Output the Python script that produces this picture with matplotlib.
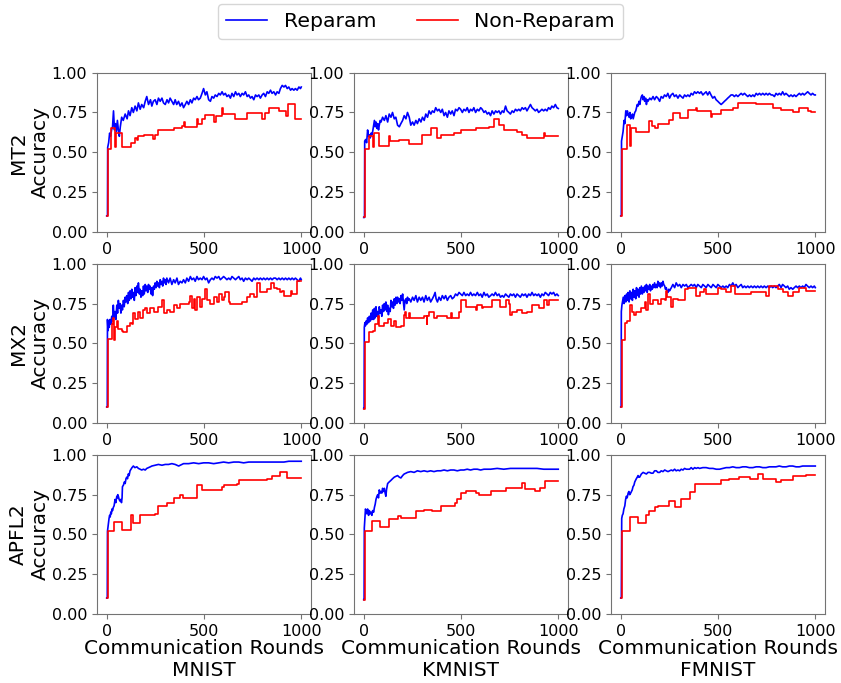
import numpy as np
import matplotlib
matplotlib.use('Agg')
from matplotlib import pyplot as plt

datasets = ['MNIST', 'KMNIST', 'FMNIST']
methods = ['MT2', 'MX2', 'APFL2']

# Reparam curves (round, accuracy)
blue_mt2_mnist = [(0,0.10),(4,0.10),(5,0.53),(10,0.56),(15,0.62),(20,0.60),(25,0.64),(30,0.66),(35,0.76),(40,0.64),(45,0.68),(50,0.63),(55,0.70),(60,0.64),(65,0.60),(70,0.66),(77,0.72),(85,0.70),(95,0.74),(105,0.71),(112,0.76),(120,0.73),(129,0.78),(137,0.75),(146,0.79),(155,0.76),(163,0.81),(172,0.77),(180,0.80),(190,0.78),(198,0.82),(206,0.85),(215,0.80),(225,0.83),(232,0.79),(240,0.82),(249,0.83),(258,0.80),(266,0.84),(275,0.82),(284,0.84),(292,0.81),(301,0.80),(310,0.83),(318,0.81),(326,0.84),(335,0.82),(344,0.80),(352,0.83),(360,0.80),(369,0.82),(378,0.79),(387,0.81),(395,0.78),(404,0.80),(412,0.82),(421,0.80),(430,0.83),(438,0.81),(447,0.84),(455,0.83),(464,0.85),(472,0.83),(481,0.84),(490,0.87),(498,0.90),(507,0.86),(515,0.88),(524,0.83),(533,0.82),(541,0.85),(550,0.84),(558,0.86),(567,0.85),(576,0.87),(584,0.86),(593,0.88),(601,0.86),(610,0.87),(618,0.85),(627,0.86),(636,0.84),(644,0.87),(653,0.85),(662,0.88),(670,0.86),(679,0.87),(687,0.85),(696,0.87),(704,0.86),(713,0.88),(722,0.85),(730,0.86),(739,0.84),(747,0.85),(756,0.83),(765,0.86),(773,0.85),(782,0.86),(790,0.84),(799,0.86),(807,0.87),(816,0.85),(825,0.88),(833,0.87),(842,0.89),(850,0.87),(859,0.88),(868,0.86),(876,0.88),(885,0.87),(893,0.90),(902,0.92),(911,0.91),(919,0.92),(928,0.90),(936,0.91),(945,0.89),(953,0.90),(962,0.89),(970,0.90),(979,0.89),(988,0.91),(996,0.90),(1000,0.91)]
blue_mt2_kmnist = [(0,0.09),(4,0.09),(5,0.57),(10,0.58),(15,0.56),(20,0.64),(25,0.60),(29,0.61),(34,0.59),(38,0.62),(42,0.61),(46,0.63),(50,0.66),(55,0.70),(59,0.66),(63,0.69),(68,0.65),(72,0.68),(76,0.64),(80,0.67),(85,0.70),(89,0.69),(97,0.72),(106,0.70),(114,0.73),(123,0.69),(131,0.74),(140,0.72),(148,0.75),(157,0.71),(165,0.72),(174,0.67),(183,0.66),(191,0.68),(200,0.70),(208,0.73),(217,0.71),(225,0.75),(234,0.72),(242,0.67),(251,0.69),(259,0.67),(268,0.70),(276,0.68),(285,0.71),(294,0.69),(302,0.72),(311,0.70),(319,0.74),(328,0.72),(336,0.76),(345,0.74),(353,0.76),(362,0.75),(370,0.78),(379,0.76),(387,0.77),(396,0.75),(404,0.77),(413,0.73),(421,0.75),(430,0.72),(438,0.76),(447,0.74),(455,0.76),(464,0.73),(472,0.77),(481,0.76),(490,0.78),(498,0.77),(507,0.75),(515,0.77),(524,0.76),(532,0.78),(541,0.75),(549,0.77),(558,0.76),(566,0.78),(575,0.75),(584,0.77),(592,0.76),(601,0.78),(609,0.77),(618,0.75),(626,0.76),(635,0.74),(643,0.75),(652,0.73),(660,0.76),(669,0.74),(678,0.76),(686,0.75),(695,0.76),(703,0.74),(712,0.76),(720,0.75),(729,0.79),(737,0.76),(746,0.75),(754,0.74),(763,0.76),(771,0.75),(780,0.77),(788,0.76),(797,0.77),(805,0.76),(814,0.78),(822,0.77),(831,0.78),(839,0.76),(848,0.78),(857,0.80),(865,0.78),(874,0.77),(882,0.76),(891,0.77),(899,0.75),(908,0.76),(916,0.77),(925,0.76),(933,0.77),(942,0.76),(950,0.78),(959,0.77),(967,0.79),(976,0.78),(985,0.80),(993,0.78),(1000,0.775)]
blue_mt2_fmnist = [(0,0.10),(3,0.10),(4,0.57),(8,0.60),(12,0.63),(17,0.70),(21,0.68),(26,0.76),(30,0.73),(34,0.76),(38,0.74),(43,0.72),(47,0.75),(51,0.71),(55,0.72),(60,0.74),(64,0.71),(68,0.73),(72,0.75),(77,0.76),(81,0.78),(85,0.80),(89,0.79),(94,0.82),(98,0.80),(102,0.83),(106,0.85),(111,0.86),(115,0.83),(119,0.85),(123,0.82),(128,0.84),(132,0.80),(136,0.83),(140,0.82),(149,0.84),(157,0.83),(166,0.85),(174,0.83),(183,0.85),(191,0.84),(200,0.82),(208,0.85),(217,0.84),(225,0.86),(234,0.85),(242,0.87),(251,0.84),(259,0.86),(268,0.87),(276,0.85),(285,0.86),(294,0.84),(303,0.86),(311,0.85),(320,0.84),(328,0.86),(337,0.85),(345,0.86),(354,0.85),(362,0.87),(371,0.86),(379,0.88),(388,0.87),(396,0.88),(405,0.87),(413,0.88),(422,0.86),(430,0.87),(439,0.88),(447,0.86),(456,0.88),(464,0.86),(473,0.84),(482,0.85),(490,0.83),(499,0.82),(507,0.81),(516,0.80),(525,0.81),(533,0.82),(542,0.83),(550,0.84),(559,0.85),(567,0.86),(576,0.86),(584,0.85),(593,0.86),(602,0.85),(610,0.86),(619,0.87),(627,0.86),(636,0.87),(644,0.86),(653,0.85),(662,0.86),(670,0.85),(679,0.86),(687,0.85),(696,0.87),(704,0.86),(713,0.87),(721,0.86),(730,0.87),(739,0.86),(747,0.87),(756,0.86),(764,0.87),(773,0.86),(781,0.86),(790,0.85),(798,0.87),(807,0.86),(815,0.87),(824,0.86),(832,0.88),(841,0.86),(849,0.87),(858,0.86),(866,0.85),(875,0.86),(884,0.85),(892,0.86),(901,0.85),(909,0.86),(918,0.87),(926,0.86),(935,0.87),(943,0.86),(952,0.87),(961,0.88),(969,0.87),(978,0.86),(986,0.87),(995,0.86),(1000,0.86)]
blue_mx2_mnist = [(0,0.10),(3,0.10),(4,0.65),(7,0.58),(10,0.64),(13,0.60),(17,0.65),(21,0.62),(26,0.67),(30,0.64),(34,0.74),(38,0.66),(43,0.70),(47,0.65),(52,0.74),(56,0.69),(60,0.77),(64,0.72),(69,0.75),(73,0.69),(77,0.74),(81,0.71),(86,0.77),(90,0.73),(95,0.79),(99,0.76),(103,0.80),(108,0.75),(112,0.82),(116,0.77),(120,0.83),(125,0.78),(129,0.84),(133,0.79),(137,0.82),(142,0.77),(146,0.85),(150,0.80),(155,0.86),(159,0.82),(163,0.88),(168,0.81),(172,0.84),(176,0.79),(180,0.83),(185,0.80),(189,0.86),(193,0.81),(198,0.87),(202,0.83),(206,0.86),(211,0.82),(215,0.87),(219,0.84),(223,0.86),(228,0.81),(232,0.85),(236,0.80),(241,0.86),(245,0.84),(249,0.88),(254,0.85),(258,0.89),(262,0.86),(266,0.88),(271,0.85),(275,0.90),(279,0.87),(284,0.89),(288,0.86),(292,0.91),(297,0.88),(301,0.90),(305,0.87),(309,0.91),(318,0.88),(326,0.91),(335,0.87),(344,0.90),(352,0.88),(361,0.91),(369,0.87),(378,0.89),(387,0.88),(395,0.90),(404,0.88),(412,0.91),(421,0.89),(430,0.92),(438,0.90),(447,0.91),(455,0.89),(464,0.92),(472,0.90),(481,0.91),(490,0.90),(498,0.92),(507,0.90),(515,0.91),(524,0.88),(533,0.90),(541,0.91),(550,0.90),(558,0.92),(567,0.91),(576,0.92),(584,0.90),(593,0.91),(601,0.92),(610,0.91),(618,0.90),(627,0.91),(636,0.90),(644,0.92),(653,0.91),(662,0.90),(670,0.91),(679,0.92),(687,0.90),(696,0.91),(704,0.89),(713,0.91),(722,0.90),(730,0.91),(739,0.90),(747,0.89),(756,0.91),(764,0.90),(773,0.91),(782,0.90),(790,0.91),(799,0.90),(807,0.91),(816,0.90),(825,0.91),(833,0.90),(842,0.91),(850,0.90),(859,0.91),(868,0.91),(876,0.90),(885,0.91),(893,0.90),(902,0.91),(911,0.90),(919,0.91),(928,0.90),(936,0.91),(945,0.90),(953,0.91),(962,0.90),(970,0.91),(979,0.90),(988,0.89),(996,0.91),(1000,0.90)]
blue_mx2_kmnist = [(0,0.09),(2,0.09),(3,0.60),(6,0.63),(9,0.61),(12,0.64),(16,0.62),(20,0.66),(25,0.63),(29,0.67),(34,0.64),(38,0.69),(42,0.65),(46,0.71),(51,0.65),(55,0.72),(59,0.66),(63,0.73),(68,0.67),(72,0.70),(76,0.66),(80,0.73),(85,0.69),(89,0.71),(93,0.67),(97,0.74),(102,0.70),(106,0.75),(110,0.71),(114,0.76),(119,0.70),(123,0.74),(127,0.68),(131,0.72),(136,0.70),(140,0.77),(144,0.73),(148,0.76),(153,0.72),(157,0.78),(161,0.74),(166,0.79),(170,0.75),(174,0.79),(178,0.76),(183,0.78),(187,0.75),(191,0.80),(195,0.77),(200,0.81),(204,0.76),(208,0.71),(212,0.77),(217,0.78),(221,0.75),(225,0.79),(229,0.77),(234,0.78),(242,0.76),(251,0.79),(259,0.77),(268,0.80),(276,0.76),(285,0.79),(293,0.77),(302,0.79),(310,0.76),(319,0.80),(327,0.77),(336,0.79),(344,0.76),(353,0.78),(361,0.80),(367,0.82),(372,0.78),(379,0.76),(387,0.79),(396,0.77),(404,0.80),(413,0.78),(421,0.80),(430,0.77),(438,0.79),(447,0.80),(455,0.78),(464,0.79),(472,0.81),(481,0.80),(490,0.82),(498,0.81),(507,0.80),(515,0.82),(524,0.80),(532,0.81),(541,0.80),(549,0.82),(558,0.80),(566,0.81),(575,0.80),(584,0.82),(592,0.80),(601,0.81),(609,0.79),(618,0.82),(626,0.80),(635,0.81),(643,0.79),(652,0.80),(660,0.81),(669,0.80),(677,0.82),(686,0.80),(695,0.81),(703,0.79),(712,0.80),(720,0.79),(729,0.81),(737,0.80),(746,0.79),(754,0.81),(763,0.80),(771,0.81),(780,0.79),(788,0.81),(797,0.80),(805,0.79),(814,0.81),(822,0.80),(831,0.81),(839,0.79),(848,0.81),(857,0.80),(865,0.82),(874,0.80),(882,0.81),(891,0.80),(899,0.81),(908,0.79),(916,0.81),(925,0.80),(933,0.82),(942,0.81),(950,0.80),(959,0.82),(967,0.81),(976,0.82),(984,0.80),(993,0.81),(1000,0.80)]
blue_mx2_fmnist = [(0,0.10),(2,0.10),(3,0.70),(6,0.74),(9,0.76),(13,0.79),(17,0.75),(21,0.80),(26,0.76),(30,0.81),(34,0.77),(38,0.82),(43,0.76),(47,0.83),(51,0.78),(55,0.82),(60,0.77),(64,0.84),(68,0.79),(72,0.83),(77,0.78),(81,0.85),(85,0.80),(89,0.84),(94,0.79),(98,0.85),(102,0.81),(106,0.86),(111,0.81),(115,0.85),(119,0.82),(123,0.86),(128,0.83),(132,0.87),(136,0.82),(140,0.86),(145,0.84),(149,0.87),(153,0.83),(157,0.86),(162,0.84),(166,0.87),(170,0.85),(174,0.88),(179,0.85),(183,0.87),(187,0.85),(191,0.89),(196,0.86),(200,0.88),(204,0.85),(209,0.88),(213,0.86),(217,0.89),(221,0.87),(226,0.86),(230,0.84),(234,0.85),(238,0.83),(243,0.82),(247,0.84),(251,0.83),(260,0.85),(268,0.87),(277,0.85),(285,0.88),(294,0.86),(303,0.87),(311,0.85),(320,0.87),(328,0.86),(337,0.87),(345,0.85),(354,0.86),(362,0.87),(371,0.86),(379,0.87),(388,0.85),(396,0.87),(405,0.86),(414,0.85),(422,0.87),(431,0.86),(439,0.85),(448,0.87),(456,0.86),(465,0.85),(474,0.87),(482,0.86),(491,0.85),(499,0.87),(508,0.86),(516,0.85),(525,0.86),(533,0.85),(542,0.86),(550,0.85),(559,0.87),(567,0.86),(576,0.88),(584,0.86),(593,0.87),(602,0.85),(610,0.86),(619,0.87),(627,0.85),(636,0.86),(644,0.85),(653,0.86),(661,0.85),(670,0.86),(679,0.85),(687,0.86),(696,0.85),(704,0.86),(713,0.85),(721,0.86),(730,0.85),(738,0.86),(747,0.85),(756,0.86),(764,0.85),(773,0.86),(781,0.85),(790,0.86),(798,0.85),(807,0.86),(815,0.87),(824,0.85),(832,0.87),(841,0.86),(849,0.85),(858,0.86),(866,0.84),(875,0.85),(884,0.84),(892,0.85),(901,0.86),(909,0.85),(918,0.86),(926,0.85),(935,0.86),(943,0.85),(952,0.87),(960,0.86),(969,0.85),(978,0.86),(986,0.85),(995,0.86),(1000,0.85)]
blue_apfl2_mnist = [(0,0.10),(3,0.10),(4,0.52),(7,0.55),(9,0.57),(12,0.60),(15,0.62),(18,0.61),(21,0.64),(24,0.63),(27,0.66),(30,0.65),(34,0.67),(38,0.68),(43,0.72),(47,0.70),(52,0.74),(55,0.73),(57,0.75),(60,0.74),(64,0.72),(68,0.71),(72,0.72),(76,0.70),(79,0.73),(81,0.80),(86,0.81),(91,0.83),(95,0.82),(99,0.85),(103,0.86),(107,0.85),(111,0.88),(115,0.87),(120,0.90),(125,0.91),(130,0.92),(137,0.93),(145,0.92),(155,0.925),(163,0.915),(172,0.91),(180,0.905),(189,0.91),(198,0.905),(206,0.915),(215,0.92),(224,0.925),(232,0.93),(249,0.935),(266,0.94),(284,0.935),(301,0.94),(318,0.94),(335,0.945),(352,0.94),(361,0.935),(370,0.93),(378,0.935),(395,0.945),(421,0.945),(447,0.95),(473,0.945),(498,0.95),(524,0.95),(550,0.945),(576,0.95),(601,0.955),(627,0.95),(653,0.955),(679,0.955),(704,0.95),(730,0.955),(756,0.955),(782,0.955),(808,0.955),(833,0.955),(859,0.955),(885,0.955),(911,0.955),(936,0.96),(962,0.96),(988,0.96),(1000,0.96)]
blue_apfl2_kmnist = [(0,0.09),(2,0.09),(3,0.54),(6,0.60),(9,0.66),(12,0.65),(16,0.63),(20,0.66),(25,0.62),(29,0.65),(34,0.63),(38,0.64),(42,0.62),(46,0.65),(51,0.64),(55,0.67),(59,0.69),(63,0.72),(68,0.74),(72,0.75),(76,0.73),(80,0.78),(85,0.76),(89,0.77),(93,0.76),(97,0.79),(102,0.77),(106,0.79),(110,0.76),(114,0.74),(117,0.78),(123,0.82),(131,0.83),(140,0.84),(148,0.85),(157,0.86),(165,0.865),(174,0.87),(183,0.86),(191,0.855),(200,0.87),(208,0.88),(217,0.885),(225,0.89),(242,0.895),(259,0.89),(276,0.90),(293,0.895),(310,0.90),(327,0.895),(344,0.90),(361,0.895),(378,0.90),(396,0.90),(413,0.905),(430,0.90),(447,0.905),(464,0.905),(481,0.90),(498,0.905),(515,0.905),(532,0.91),(549,0.905),(566,0.91),(584,0.91),(601,0.905),(618,0.91),(652,0.91),(686,0.915),(720,0.91),(754,0.915),(788,0.915),(822,0.915),(857,0.915),(891,0.915),(925,0.91),(959,0.91),(1000,0.91)]
blue_apfl2_fmnist = [(0,0.10),(3,0.10),(5,0.60),(8,0.62),(12,0.63),(16,0.66),(21,0.68),(25,0.72),(29,0.74),(33,0.73),(38,0.76),(42,0.77),(46,0.75),(51,0.76),(55,0.77),(59,0.78),(63,0.80),(68,0.81),(72,0.83),(76,0.84),(80,0.85),(85,0.86),(89,0.87),(93,0.86),(97,0.86),(106,0.88),(115,0.89),(123,0.885),(132,0.88),(140,0.89),(149,0.89),(157,0.885),(166,0.885),(174,0.90),(183,0.90),(191,0.89),(200,0.89),(208,0.90),(217,0.895),(226,0.905),(234,0.90),(243,0.895),(251,0.90),(260,0.905),(268,0.90),(277,0.91),(285,0.90),(294,0.905),(303,0.90),(311,0.91),(320,0.905),(328,0.915),(337,0.91),(345,0.91),(354,0.91),(362,0.92),(371,0.91),(380,0.92),(388,0.915),(397,0.92),(405,0.915),(422,0.92),(439,0.92),(456,0.915),(474,0.915),(491,0.91),(508,0.91),(525,0.915),(542,0.92),(559,0.92),(576,0.925),(593,0.92),(610,0.92),(627,0.925),(644,0.925),(661,0.92),(679,0.92),(696,0.925),(713,0.925),(730,0.92),(747,0.92),(764,0.925),(781,0.925),(798,0.925),(815,0.93),(832,0.925),(850,0.925),(867,0.93),(884,0.93),(901,0.925),(918,0.925),(935,0.93),(952,0.93),(969,0.93),(986,0.93),(1000,0.93)]

# Non-Reparam curves: step values (round where the value starts, accuracy)
red_mt2_mnist = [(0,0.10),(8,0.52),(20,0.65),(45,0.53),(50,0.62),(77,0.535),(125,0.56),(143,0.59),(155,0.575),(163,0.60),(190,0.61),(240,0.585),(250,0.61),(266,0.64),(344,0.65),(387,0.665),(395,0.69),(400,0.66),(464,0.71),(468,0.675),(490,0.71),(507,0.735),(550,0.69),(562,0.73),(593,0.78),(600,0.74),(662,0.71),(722,0.745),(800,0.71),(815,0.745),(833,0.78),(885,0.76),(924,0.725),(930,0.80),(970,0.71),(1000,0.71)]
red_mt2_kmnist = [(0,0.09),(8,0.52),(25,0.60),(46,0.53),(55,0.62),(80,0.54),(128,0.60),(133,0.57),(183,0.58),(234,0.55),(302,0.61),(345,0.65),(379,0.59),(396,0.61),(464,0.62),(498,0.64),(575,0.65),(643,0.66),(669,0.71),(695,0.67),(720,0.64),(788,0.625),(814,0.61),(840,0.59),(925,0.62),(930,0.60),(976,0.605),(1000,0.605)]
red_mt2_fmnist = [(0,0.10),(8,0.52),(30,0.67),(50,0.54),(53,0.65),(80,0.63),(145,0.695),(162,0.665),(174,0.655),(191,0.675),(248,0.70),(268,0.745),(303,0.715),(345,0.765),(386,0.78),(390,0.76),(463,0.72),(470,0.74),(516,0.765),(576,0.78),(602,0.81),(696,0.805),(781,0.78),(824,0.765),(884,0.755),(918,0.775),(961,0.76),(978,0.75),(1000,0.75)]
red_mx2_mnist = [(0,0.10),(8,0.53),(26,0.62),(34,0.66),(40,0.52),(44,0.60),(52,0.64),(60,0.59),(77,0.58),(86,0.57),(103,0.61),(120,0.63),(129,0.62),(137,0.69),(146,0.65),(163,0.70),(172,0.66),(189,0.71),(198,0.72),(206,0.69),(223,0.72),(241,0.70),(266,0.73),(284,0.77),(292,0.69),(309,0.71),(326,0.70),(344,0.74),(361,0.72),(378,0.75),(421,0.76),(430,0.80),(438,0.72),(447,0.78),(455,0.71),(464,0.79),(481,0.73),(490,0.78),(507,0.84),(515,0.77),(533,0.75),(550,0.79),(567,0.76),(576,0.81),(593,0.77),(601,0.79),(610,0.82),(627,0.76),(636,0.75),(696,0.76),(722,0.79),(739,0.81),(756,0.79),(773,0.88),(790,0.82),(825,0.84),(842,0.88),(859,0.85),(876,0.84),(893,0.82),(902,0.83),(911,0.80),(945,0.83),(954,0.81),(979,0.89),(1000,0.89)]
red_mx2_kmnist = [(0,0.09),(5,0.51),(26,0.57),(46,0.58),(60,0.62),(72,0.67),(76,0.61),(106,0.63),(123,0.65),(140,0.61),(157,0.64),(166,0.60),(191,0.61),(208,0.68),(214,0.70),(217,0.66),(234,0.69),(240,0.66),(311,0.67),(323,0.62),(326,0.67),(336,0.70),(362,0.66),(379,0.67),(430,0.66),(447,0.69),(456,0.66),(490,0.70),(498,0.77),(524,0.73),(575,0.71),(580,0.74),(609,0.72),(614,0.73),(660,0.77),(703,0.73),(729,0.77),(746,0.75),(754,0.68),(763,0.70),(788,0.71),(814,0.69),(840,0.70),(865,0.74),(899,0.72),(925,0.77),(942,0.74),(951,0.77),(1000,0.77)]
red_mx2_fmnist = [(0,0.10),(9,0.52),(21,0.63),(32,0.64),(46,0.74),(58,0.70),(67,0.68),(80,0.70),(106,0.72),(123,0.76),(132,0.71),(140,0.81),(149,0.75),(166,0.77),(191,0.75),(209,0.78),(226,0.77),(234,0.83),(240,0.79),(260,0.73),(268,0.78),(294,0.77),(328,0.84),(345,0.85),(388,0.80),(405,0.82),(430,0.84),(439,0.81),(499,0.85),(516,0.84),(542,0.82),(568,0.86),(585,0.81),(670,0.82),(747,0.80),(764,0.86),(807,0.84),(832,0.82),(858,0.80),(884,0.82),(918,0.85),(952,0.83),(1000,0.83)]
red_apfl2_mnist = [(0,0.10),(8,0.52),(40,0.58),(77,0.53),(125,0.62),(137,0.57),(172,0.62),(249,0.63),(266,0.68),(309,0.70),(344,0.73),(378,0.75),(390,0.73),(464,0.81),(490,0.78),(593,0.80),(601,0.81),(670,0.82),(679,0.845),(799,0.84),(825,0.85),(850,0.87),(893,0.89),(928,0.855),(1000,0.855)]
red_apfl2_kmnist = [(0,0.09),(8,0.52),(43,0.585),(84,0.545),(128,0.595),(174,0.615),(191,0.605),(268,0.645),(311,0.655),(353,0.645),(396,0.68),(469,0.695),(481,0.725),(498,0.76),(524,0.775),(575,0.76),(592,0.75),(652,0.775),(729,0.79),(814,0.825),(831,0.785),(882,0.77),(908,0.79),(933,0.835),(1000,0.835)]
red_apfl2_fmnist = [(0,0.10),(5,0.52),(46,0.61),(89,0.57),(132,0.625),(145,0.65),(174,0.67),(191,0.68),(248,0.71),(277,0.67),(311,0.725),(354,0.765),(380,0.82),(474,0.815),(516,0.845),(559,0.85),(610,0.86),(662,0.85),(704,0.88),(730,0.85),(798,0.83),(824,0.845),(884,0.865),(918,0.87),(952,0.875),(1000,0.875)]

reparam = [[blue_mt2_mnist, blue_mt2_kmnist, blue_mt2_fmnist],
           [blue_mx2_mnist, blue_mx2_kmnist, blue_mx2_fmnist],
           [blue_apfl2_mnist, blue_apfl2_kmnist, blue_apfl2_fmnist]]
non_reparam = [[red_mt2_mnist, red_mt2_kmnist, red_mt2_fmnist],
               [red_mx2_mnist, red_mx2_kmnist, red_mx2_fmnist],
               [red_apfl2_mnist, red_apfl2_kmnist, red_apfl2_fmnist]]

plt.rcParams['font.family'] = ['DejaVu Sans']
plt.rcParams['font.size'] = 11

fig, axes = plt.subplots(3, 3, figsize=(8.41, 6.83), dpi=100)
fig.subplots_adjust(left=0.1153, right=0.981, top=0.8936, bottom=0.101,
                    wspace=0.201, hspace=0.201)

for i in range(3):
    for j in range(3):
        ax = axes[i, j]
        bx, by = zip(*reparam[i][j])
        rx, ry = zip(*non_reparam[i][j])
        ax.plot(bx, by, color='blue', lw=1.2, label='Reparam')
        ax.plot(rx, ry, color='red', lw=1.2, drawstyle='steps-post', label='Non-Reparam')
        ax.set_ylim(0, 1)
        ax.set_yticks([0, 0.25, 0.5, 0.75, 1.0])
        ax.set_xticks([0, 500, 1000])
        ax.tick_params(labelsize=11.5, color='0.45')
        for sp in ax.spines.values():
            sp.set_edgecolor('0.45')
        if j == 0:
            ax.set_ylabel(methods[i] + '\nAccuracy', fontsize=14.5, labelpad=1)
        if i == 2:
            ax.set_xlabel('Communication Rounds\n' + datasets[j], fontsize=14.5, labelpad=0.5)

handles, labels = axes[0, 0].get_legend_handles_labels()
fig.legend(handles, labels, loc='upper center', bbox_to_anchor=(0.5, 1.009),
           ncol=2, fontsize=14.7)

plt.savefig('out.png', dpi=100)
